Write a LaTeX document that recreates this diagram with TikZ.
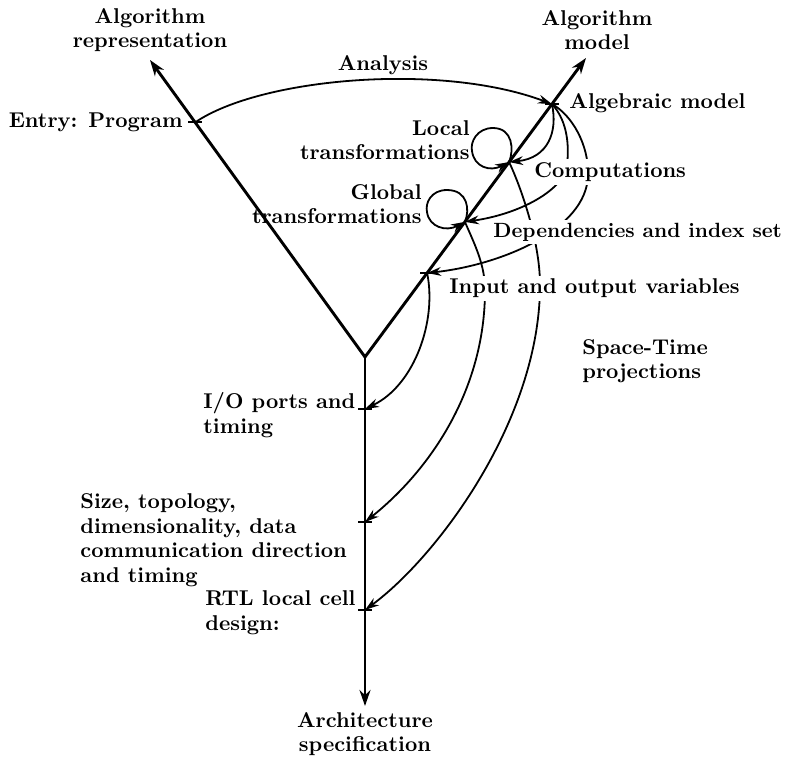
\documentclass[tikz,border=0pt]{standalone}
\usetikzlibrary{arrows.meta,calc}
\begin{document}
\begin{tikzpicture}[x=0.5pt,y=-0.5pt,
  axis/.style={line width=1.45pt},
  axboth/.style={{Stealth[length=8pt,width=5.5pt]}-{Stealth[length=8pt,width=5.5pt]}},
  axend/.style={-{Stealth[length=8pt,width=5.5pt]}},
  flow/.style={line width=0.9pt,-{Stealth[length=7pt,width=4.4pt]}},
  lbl/.style={font=\fontsize{10.7}{12.3}\selectfont\bfseries,inner sep=1pt},
  gap/.style={lbl,fill=white,inner sep=1.5pt},
  tick/.style={line width=1pt}]
\useasboundingbox (0,0) rectangle (788,757);

% the Y of the three spaces
\coordinate (V) at (365,357);
\coordinate (LT) at (150,60);
\coordinate (RT) at (586,58);
\coordinate (B) at (365,706);
\coordinate (EP) at ($(V)!0.79!(LT)$);
\coordinate (A) at ($(V)!0.846!(RT)$);
\coordinate (L) at ($(V)!0.652!(RT)$);
\coordinate (G) at ($(V)!0.452!(RT)$);
\coordinate (I) at ($(V)!0.281!(RT)$);
\coordinate (IO) at (365,409);
\coordinate (SZ) at (365,522);
\coordinate (RTL) at (365,610);

% connectors that run behind the model labels
\draw[flow] (A) .. controls (565,118) and (570,140) .. (567,165)
            .. controls (564,190) and (520,214) .. (G);
\draw[flow] (A) .. controls (572,115) and (589,145) .. (588,175)
            .. controls (587,230) and (500,265) .. (I);
\draw[flow] (L) .. controls (520,185) and (540,240) .. (540,285)
            .. controls (540,420) and (437,557) .. (RTL);
\draw[flow] (G) .. controls (475,245) and (485,265) .. (485,290)
            .. controls (485,390) and (430,470) .. (SZ);

\node[gap,anchor=west] (comp) at (531,172) {Computations};
\node[gap,anchor=west,font=\fontsize{10.3}{12.3}\selectfont\bfseries] (dep) at (490,232) {Dependencies and index set};
\node[gap,anchor=west] (inout) at (446,288) {Input and output variables};

% axes
\draw[axis,axboth] (LT) -- (V) -- (RT);
\draw[axis,axend] (V) -- (B);
\foreach \p in {EP,A,I,IO,SZ,RTL}
  \draw[tick] ($(\p)+(-7,0)$) -- ($(\p)+(7,0)$);

% remaining connectors
\draw[flow] (EP) .. controls (260,78) and (440,62) .. (A);
\draw[flow] (A) .. controls (558,132) and (548,158) .. (L);
\draw[flow] (I) .. controls (437,320) and (415,385) .. (IO);
\draw[flow] (L) .. controls (514,150) and (513,128) .. (493,128)
            .. controls (477,128) and (470,142) .. (472,151)
            .. controls (474,167) and (490,172) .. (L);
\draw[flow] (G) .. controls (470,210) and (468,190) .. (447,190)
            .. controls (431,190) and (425,203) .. (427,212)
            .. controls (429,227) and (446,232) .. (G);

% labels
\node[lbl,align=center] (lrep) at (150,30) {Algorithm\\representation};
\node[lbl,align=center] (lmod) at (597,30) {Algorithm\\model};
\node[lbl] (lana) at (383,65) {Analysis};
\node[lbl,anchor=east] (lent) at (185,122) {Entry: Program};
\node[lbl,anchor=west] (lalg) at (567,103) {Algebraic model};
\node[lbl,anchor=east,align=right] (lloc) at (472,140) {Local\\transformations};
\node[lbl,anchor=east,align=right] (lglo) at (424,204) {Global\\transformations};
\node[lbl,anchor=west,align=left] (lst) at (580,361) {Space-Time\\projections};
\node[lbl,anchor=west,align=left] (lio) at (201,415) {I/O ports and\\timing};
\node[lbl,anchor=west,align=left] (lsz) at (78,540) {Size, topology,\\dimensionality, data\\communication direction\\and timing};
\node[lbl,anchor=west,align=left] (lrtl) at (203,613) {RTL local cell\\design:};
\node[lbl,align=center] (larch) at (365,734) {Architecture\\specification};
\end{tikzpicture}
\end{document}
